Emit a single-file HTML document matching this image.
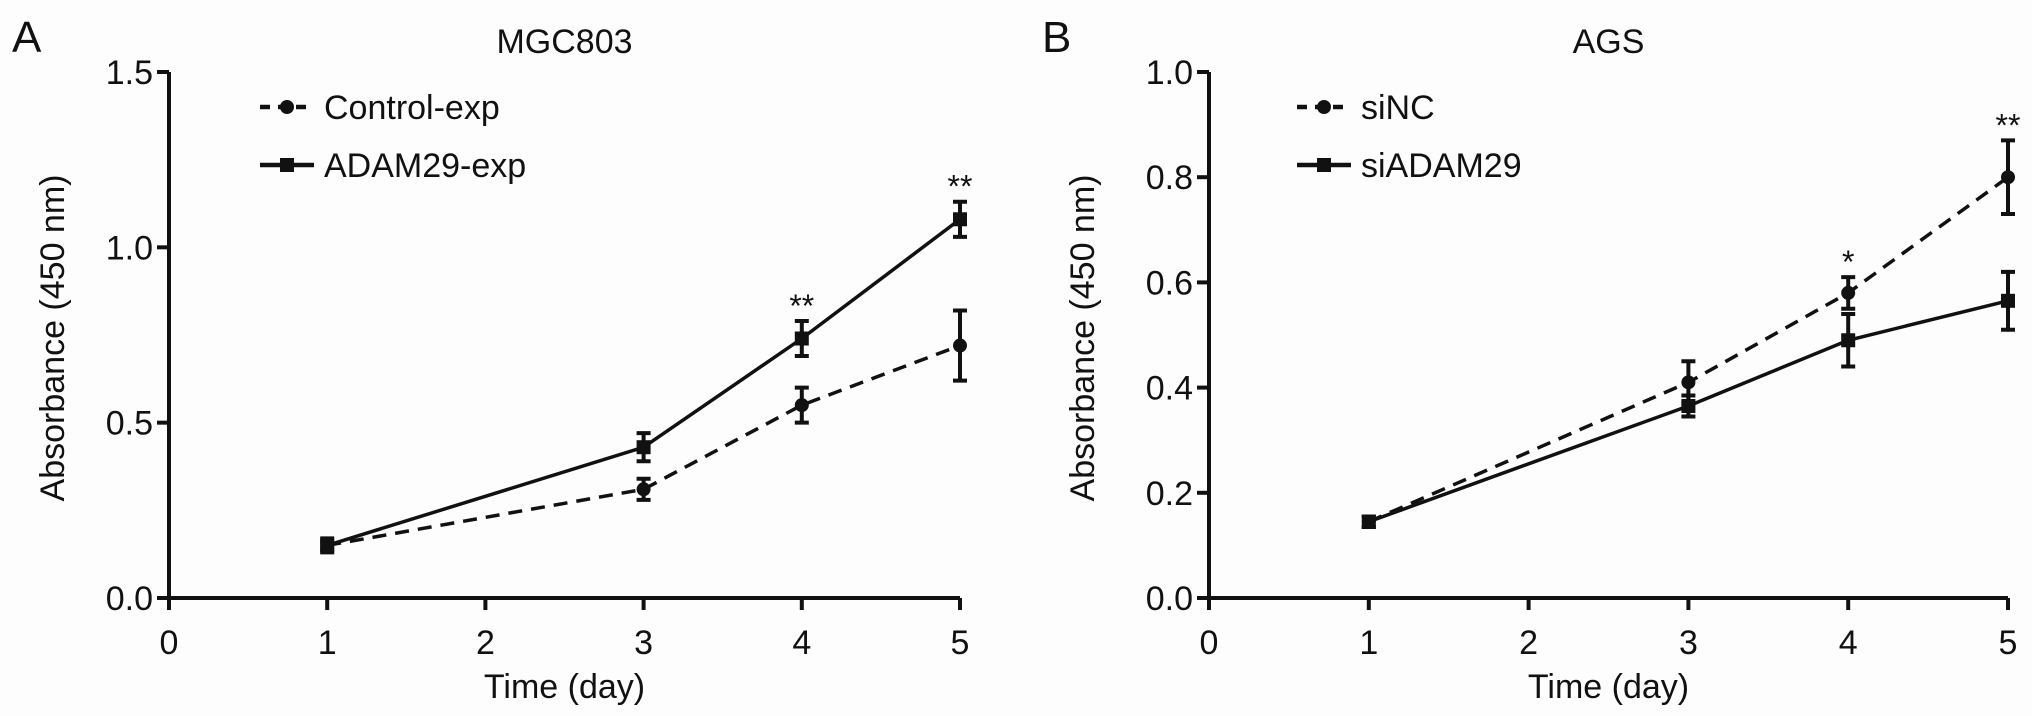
<!DOCTYPE html>
<html><head><meta charset="utf-8"><style>
html,body{margin:0;padding:0;background:#fdfdfd;}
svg{display:block;font-family:"Liberation Sans",Arial,sans-serif;}
</style></head><body>
<svg id="chart" width="2032" height="716" viewBox="0 0 2032 716" xmlns="http://www.w3.org/2000/svg">
<rect x="0" y="0" width="2032" height="716" fill="#fdfdfd"/>
</svg>
<script>
const days = [1, 3, 4, 5];
const xTicks = [0, 1, 2, 3, 4, 5];
const yTicksA = ['0.0', '0.5', '1.0', '1.5'];
const yTicksB = ['0.0', '0.2', '0.4', '0.6', '0.8', '1.0'];
const controlExp = [0.15, 0.31, 0.55, 0.72];
const controlExpErr = [0.02, 0.03, 0.05, 0.10];
const adamExp = [0.15, 0.43, 0.74, 1.08];
const adamExpErr = [0.01, 0.04, 0.05, 0.05];
const siNC = [0.145, 0.41, 0.58, 0.80];
const siNCErr = [0.01, 0.04, 0.03, 0.07];
const siADAM = [0.145, 0.365, 0.49, 0.565];
const siADAMErr = [0.01, 0.02, 0.05, 0.055];
const starsA = ['', '', '**', '**'];
const starsB = ['', '', '*', '**'];

const NS = 'http://www.w3.org/2000/svg';
const svg = document.getElementById('chart');
function mk(tag, attrs, parent, text) {
  const e = document.createElementNS(NS, tag);
  for (const k in attrs) e.setAttribute(k, attrs[k]);
  if (text !== undefined) e.textContent = text;
  (parent || svg).appendChild(e);
  return e;
}
const FS = 34;

function panel(cfg) {
  const g = mk('g', {});
  
  
  const x0 = cfg.x0, pxDay = cfg.pxDay, yBot = 598, yTop = 72, yMax = cfg.yMax;
  const sx = d => x0 + d * pxDay;
  const sy = v => yBot - (v / yMax) * (yBot - yTop);
  const xEnd = sx(5);
  const ax = mk('path', {d: `M${x0} ${yTop} L${x0} ${yBot} L${xEnd} ${yBot}`, stroke: '#111', 'stroke-width': 4, fill: 'none'}, g);
  
  
  cfg.yTicks.forEach(t => {
    const y = sy(parseFloat(t));
    mk('line', {x1: x0 - 12, x2: x0, y1: y, y2: y, stroke: '#111', 'stroke-width': 4}, g);
    const tl = mk('text', {x: x0 - 16, y: y + 12, 'text-anchor': 'end', 'font-size': FS, fill: '#111'}, g, t);
    
    
  });
  xTicks.forEach(t => {
    const x = sx(t);
    mk('line', {x1: x, x2: x, y1: yBot, y2: yBot + 12, stroke: '#111', 'stroke-width': 4}, g);
    const tl = mk('text', {x: x, y: 654, 'text-anchor': 'middle', 'font-size': FS, fill: '#111'}, g, String(t));
    
    
  });
  const xt = mk('text', {x: (x0 + xEnd) / 2, y: 698, 'text-anchor': 'middle', 'font-size': FS, fill: '#111'}, g, 'Time (day)');
  
  
  const yt = mk('text', {x: 0, y: 0, transform: `translate(${cfg.yTitleX},338) rotate(-90)`, 'text-anchor': 'middle', 'font-size': FS, fill: '#111'}, g, 'Absorbance (450 nm)');
  
  
  const ti = mk('text', {x: (x0 + xEnd) / 2, y: 53, 'text-anchor': 'middle', 'font-size': FS, fill: '#111'}, g, cfg.title);
  
  
  const pl = mk('text', {x: cfg.letterX, y: 52, 'font-size': 44, fill: '#111'}, g, cfg.letter);
  
  

  function series(vals, errs, dashed, marker, nm) {
    const sg = mk('g', {}, g);
    
    
    const d = vals.map((v, i) => (i ? 'L' : 'M') + sx(days[i]) + ' ' + sy(v)).join(' ');
    const ln = mk('path', {d: d, stroke: '#111', 'stroke-width': 3.5, fill: 'none', 'stroke-dasharray': dashed ? '14 9' : 'none'}, sg);
    
    
    vals.forEach((v, i) => {
      const x = sx(days[i]), yh = sy(v + errs[i]), yl = sy(v - errs[i]);
      const eb = mk('path', {d: `M${x} ${yh} L${x} ${yl} M${x - 7} ${yh} L${x + 7} ${yh} M${x - 7} ${yl} L${x + 7} ${yl}`, stroke: '#111', 'stroke-width': 4, fill: 'none'}, sg);
      
      
      let m;
      if (marker === 'circle') m = mk('circle', {cx: x, cy: sy(v), r: 7, fill: '#111'}, sg);
      else m = mk('rect', {x: x - 7, y: sy(v) - 7, width: 14, height: 14, fill: '#111'}, sg);
      
      
    });
  }
  series(cfg.s1, cfg.e1, true, 'circle', cfg.n1);
  series(cfg.s2, cfg.e2, false, 'square', cfg.n2);
  cfg.stars.forEach((s, i) => {
    if (!s) return;
    const top = Math.max(cfg.s1[i] + cfg.e1[i], cfg.s2[i] + cfg.e2[i]);
    const st = mk('text', {x: sx(days[i]), y: sy(top) - 4, 'text-anchor': 'middle', 'font-size': 32, fill: '#111'}, g, s);
    
    
  });
  const lx = cfg.legX;
  [[cfg.l1, true, 'circle', 107], [cfg.l2, false, 'square', 165]].forEach(([lab, dash, mark, y]) => {
    const le = mk('g', {}, g);
    
    
    mk('line', {x1: lx, x2: lx + 54, y1: y, y2: y, stroke: '#111', 'stroke-width': 4.5, 'stroke-dasharray': dash ? '10 8' : 'none'}, le);
    if (mark === 'circle') mk('circle', {cx: lx + 27, cy: y, r: 7, fill: '#111'}, le);
    else mk('rect', {x: lx + 20, y: y - 7, width: 14, height: 14, fill: '#111'}, le);
    mk('text', {x: lx + 64, y: y + 12, 'font-size': FS, fill: '#111'}, le, lab);
  });
}

panel({name: 'panel-a-mgc803', x0: 169, pxDay: 158.2, yMax: 1.5, yTicks: yTicksA, title: 'MGC803', letter: 'A', letterX: 12, yTitleX: 64,
  s1: controlExp, e1: controlExpErr, s2: adamExp, e2: adamExpErr, n1: 'control-exp-series', n2: 'adam29-exp-series',
  stars: starsA, legX: 260, l1: 'Control-exp', l2: 'ADAM29-exp'});
panel({name: 'panel-b-ags', x0: 1209, pxDay: 159.8, yMax: 1.0, yTicks: yTicksB, title: 'AGS', letter: 'B', letterX: 1042, yTitleX: 1094,
  s1: siNC, e1: siNCErr, s2: siADAM, e2: siADAMErr, n1: 'sinc-series', n2: 'siadam29-series',
  stars: starsB, legX: 1297, l1: 'siNC', l2: 'siADAM29'});
</script>
</body></html>
